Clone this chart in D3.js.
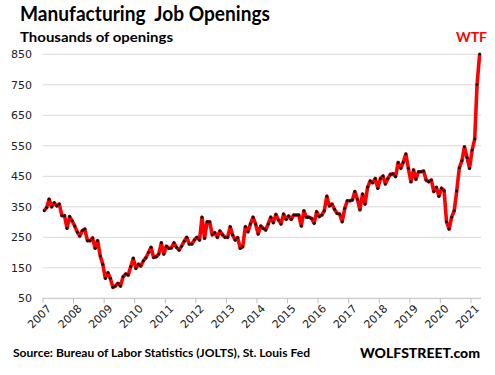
<!DOCTYPE html>
<html>
<head>
<meta charset="utf-8">
<script src="https://cdn.jsdelivr.net/npm/d3@7"></script>
<style>
  html, body { margin: 0; padding: 0; background: #fff; }
  svg { display: block; }
  .ylab, .xlab { font-family: "DejaVu Sans", Verdana, sans-serif; font-size: 11px; fill: #222; }
  .ttl { font-family: Lato, "Open Sans", sans-serif; font-weight: 700; fill: #000; white-space: pre; }
</style>
</head>
<body>
<div id="chart"></div>
<script>
/* Manufacturing job openings, monthly, Jan 2007 - Apr 2021 (thousands). */

const START_YEAR = 2007;
const YEAR_LABELS = ["2007","2008","2009","2010","2011","2012","2013","2014",
                     "2015","2016","2017","2018","2019","2020","2021"];
const Y_TICKS = [50, 150, 250, 350, 450, 550, 650, 750, 850];

// one value per month
const OPENINGS = [
  337,348,375,350,363,353,359,321,321,280,318,304,   // 2007
  287,267,254,272,277,239,239,248,214,239,189,162,   // 2008
  116,134,116, 86, 90, 99, 90,121,130,126,154,181,   // 2009
  148,162,156,173,183,200,217,184,186,195,232,195,   // 2010
  221,214,215,232,217,208,221,237,250,228,228,241,   // 2011
  250,241,316,247,301,301,258,265,250,271,258,250,   // 2012
  250,285,258,241,249,214,219,285,268,294,316,294,   // 2013
  261,287,280,274,294,316,298,325,307,294,326,309,   // 2014
  320,309,323,323,323,287,337,316,316,312,296,334,   // 2015
  318,323,337,385,353,359,342,329,326,301,345,370,   // 2016
  370,372,400,375,340,392,359,414,435,429,443,411,   // 2017
  443,451,425,443,457,458,449,495,476,496,523,476,   // 2018
  432,471,440,465,465,467,438,432,438,400,414,385,   // 2019
  411,403,301,277,316,337,402,478,501,547,512,476,   // 2020
  536,572,751,851                                    // 2021
];

const W = 495, H = 375;
const PLOT = { left: 43, right: 481, top: 54.3, bottom: 298.3 };

function drawChart(){
  const data = OPENINGS.map((v, i) => ({ date: new Date(START_YEAR, i, 15), value: v }));

  const svg = d3.select("#chart").append("svg")
      .attr("width", W).attr("height", H).attr("viewBox", `0 0 ${W} ${H}`);

  // SCALES
  const x = d3.scaleTime()
      .domain([new Date(START_YEAR, 0, 1), new Date(START_YEAR, OPENINGS.length, 1)])
      .range([PLOT.left, PLOT.right]);
  const y = d3.scaleLinear().domain([50, 850]).range([PLOT.bottom, PLOT.top]);

  // gridlines + y labels
  svg.append("g").selectAll("line").data(Y_TICKS).join("line")
      .attr("x1", PLOT.left).attr("x2", PLOT.right)
      .attr("y1", d => y(d)).attr("y2", d => y(d))
      .attr("stroke", d => d === 50 ? "#bfbfbf" : "#d9d9d9").attr("stroke-width", 1);
  svg.append("g").selectAll("text").data(Y_TICKS).join("text")
      .attr("class", "ylab")
      .attr("x", 32).attr("y", d => y(d)).attr("dy", "0.36em")
      .attr("text-anchor", "end").text(d => d);

  // year ticks + rotated labels
  const years = YEAR_LABELS.map(s => new Date(+s, 0, 1));
  svg.append("g").selectAll("line").data(years).join("line")
      .attr("x1", d => x(d)).attr("x2", d => x(d))
      .attr("y1", PLOT.bottom).attr("y2", PLOT.bottom + 5)
      .attr("stroke", "#bfbfbf");
  svg.append("g").selectAll("text").data(years).join("text")
      .attr("class", "xlab")
      .attr("text-anchor", "end")
      .attr("transform", d => `translate(${x(d) + 9},${PLOT.bottom + 11}) rotate(-45)`)
      .text(d => d.getFullYear());

  // the line
  const line = d3.line().x(d => x(d.date)).y(d => y(d.value));
  svg.append("path").datum(data)
      .attr("d", line)
      .attr("fill", "none").attr("stroke", "#ff0000")
      .attr("stroke-width", 3.6).attr("stroke-linejoin", "round");
  svg.append("g").selectAll("circle").data(data).join("circle")
      .attr("cx", d => x(d.date)).attr("cy", d => y(d.value))
      .attr("r", 1.5).attr("fill", "#111");

  // titles
  svg.append("text").attr("class", "ttl").attr("x", 20).attr("y", 21)
      .attr("font-size", 20).attr("textLength", 250).attr("lengthAdjust", "spacingAndGlyphs")
      .text("Manufacturing  Job Openings");
  svg.append("text").attr("class", "ttl").attr("x", 20).attr("y", 42)
      .attr("font-size", 14).attr("textLength", 153).attr("lengthAdjust", "spacingAndGlyphs")
      .text("Thousands of openings");
  svg.append("text").attr("class", "ttl").attr("x", 487).attr("y", 42)
      .attr("text-anchor", "end").attr("font-size", 14)
      .style("fill", "#ff0000")
      .text("WTF");

  // footer
  svg.append("text").attr("class", "ttl").attr("x", 13).attr("y", 357)
      .attr("font-size", 12).attr("textLength", 297).attr("lengthAdjust", "spacingAndGlyphs")
      .text("Source: Bureau of Labor Statistics (JOLTS), St. Louis Fed");
  svg.append("text").attr("class", "ttl").attr("x", 360).attr("y", 357.5)
      .attr("font-size", 13)
      .attr("textLength", 120).attr("lengthAdjust", "spacingAndGlyphs")
      .style("font-weight", 900)
      .text("WOLFSTREET.com");
}

drawChart();
</script>
</body>
</html>
